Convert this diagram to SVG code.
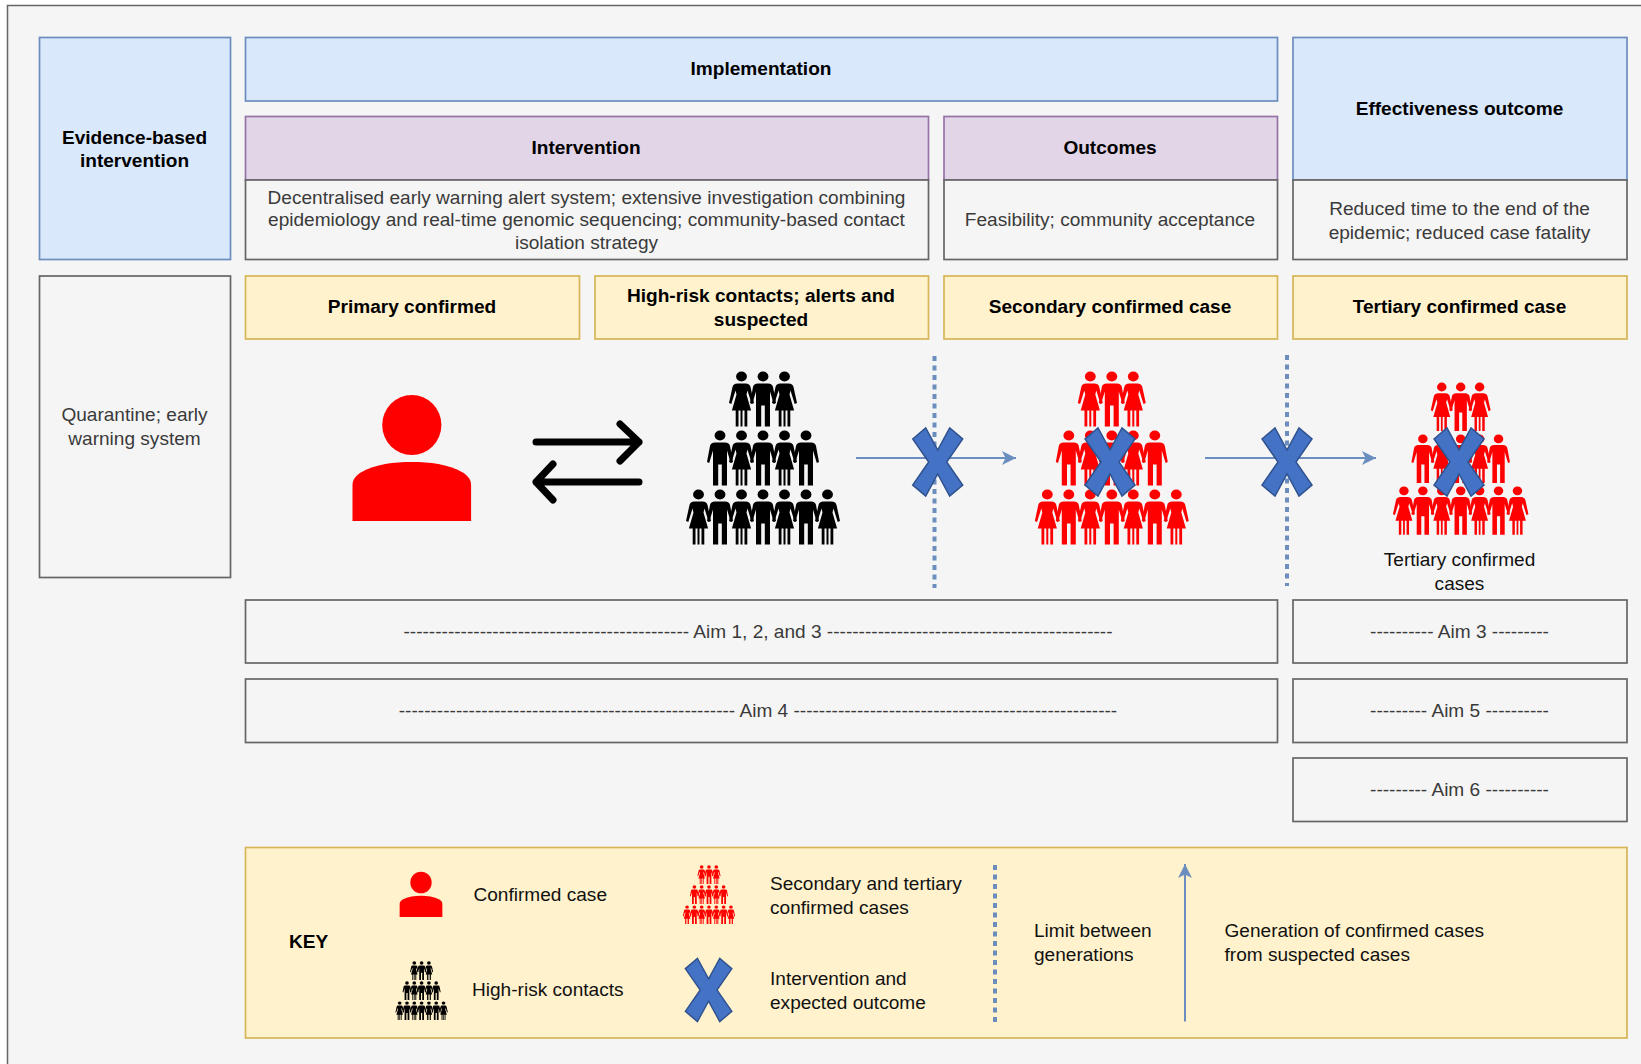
<svg xmlns="http://www.w3.org/2000/svg" width="1641" height="1064" viewBox="0 0 1641 1064">
<style>
text{font-family:"Liberation Sans",Arial,sans-serif;font-size:19.07px;fill:#3a3a3a;text-anchor:middle}
.b{font-weight:bold;fill:#000}
.k{fill:#111;text-anchor:start}
rect{stroke-width:1.7}
rect.bl{fill:#dae8fc;stroke:#6c8ebf}
rect.pu{fill:#e1d5e7;stroke:#9673a6}
rect.ye{fill:#fff2cc;stroke:#d6b656}
rect.gr{fill:#f5f5f5;stroke:#666}
.dot{fill:none;stroke:#6c8ebf;stroke-width:4;stroke-dasharray:5 4.5}
.flow{fill:none;stroke:#6c8ebf;stroke-width:2}
.swap{fill:none;stroke:#000;stroke-width:7;stroke-linecap:round;stroke-linejoin:round}
.x{fill:#4472c4;stroke:#2f528f;stroke-width:1.5}
</style>
<defs>
<marker id="head" markerUnits="userSpaceOnUse" markerWidth="16" markerHeight="16" refX="14" refY="7.5" orient="auto"><path d="M0 .5L14 7.5L0 14.5L3.5 7.5Z" fill="#6c8ebf"/></marker>
<g id="woman"><ellipse cx="0" cy="0" rx="5.4" ry="5"/><path d="M-4 7H4C7 7 8.500 8.500 9 10.500L12.500 26.500L10.200 27.500L6 14L5 18L9.600 34H5.800V50H3V34H1V50H-1V34H-3V50H-5.800V34H-9.600L-5 18L-6 14L-10.200 27.500L-12.500 26.500L-9 10.500C-8.500 8.500-7 7-4 7Z"/></g>
<g id="man"><ellipse cx="0" cy="0" rx="5.4" ry="5"/><path d="M-5 7H5C8 7 9.500 8.500 10 10.500L13 26.500L10.800 27.500L7 15V50H1.800V29H-1.800V50H-7V15L-10.800 27.500L-13 26.500L-10 10.500C-9.500 8.500-8 7-5 7Z"/></g>
<g id="crowd">
<use href="#woman" x="-21.500" y="0"/><use href="#man" x="0" y="0"/><use href="#woman" x="21.500" y="0"/>
<use href="#man" x="-43" y="59"/><use href="#woman" x="-21.500" y="59"/><use href="#man" x="0" y="59"/><use href="#woman" x="21.500" y="59"/><use href="#man" x="43" y="59"/>
<use href="#woman" x="-64.500" y="118"/><use href="#man" x="-43" y="118"/><use href="#woman" x="-21.500" y="118"/><use href="#man" x="0" y="118"/><use href="#woman" x="21.500" y="118"/><use href="#man" x="43" y="118"/><use href="#woman" x="64.500" y="118"/>
</g>
<g id="person"><ellipse cx="0" cy="0" rx="29.600" ry="30"/><path d="M-59.300 96V60C-59.300 54-55 50-51 47.500C-36 39-18 37 0 37C18 37 36 39 51 47.500C55 50 59.300 54 59.300 60V96Z"/></g>
<path id="cross" d="M-25 -23L-12 -34L0 -12L12 -34L25 -23L9 0L25 23L12 34L0 12L-12 34L-25 23L-9 0Z"/>
</defs>

<rect x="7.500" y="5.500" width="1700" height="1100" style="fill:#f5f5f5;stroke:#666;stroke-width:1.500"/>

<g id="evidence"><rect class="bl" x="39.500" y="37.500" width="191" height="222"/><text class="b" x="134.500" y="144">Evidence-based</text><text class="b" x="134.500" y="167">intervention</text></g>
<g id="implementation"><rect class="bl" x="245.500" y="37.500" width="1032" height="63.500"/><text class="b" x="761" y="75">Implementation</text></g>
<g id="intervention"><rect class="pu" x="245.500" y="116.500" width="683" height="63.500"/><text class="b" x="586" y="154">Intervention</text></g>
<g id="intervention-text"><rect class="gr" x="245.500" y="180" width="683" height="79.500"/><text x="586.500" y="203.500">Decentralised early warning alert system; extensive investigation combining</text><text x="586.500" y="226">epidemiology and real-time genomic sequencing; community-based contact</text><text x="586.500" y="249">isolation strategy</text></g>
<g id="outcomes"><rect class="pu" x="944" y="116.500" width="333.500" height="63.500"/><text class="b" x="1110" y="154">Outcomes</text></g>
<g id="outcomes-text"><rect class="gr" x="944" y="180" width="333.500" height="79.500"/><text x="1110" y="225.500">Feasibility; community acceptance</text></g>
<g id="effectiveness"><rect class="bl" x="1293" y="37.500" width="334" height="142.500"/><text class="b" x="1459.500" y="115">Effectiveness outcome</text></g>
<g id="effectiveness-text"><rect class="gr" x="1293" y="180" width="334" height="79.500"/><text x="1459.500" y="214.500">Reduced time to the end of the</text><text x="1459.500" y="238.500">epidemic; reduced case fatality</text></g>

<g id="quarantine"><rect class="gr" x="39.500" y="276" width="191" height="301.500"/><text x="134.500" y="421">Quarantine; early</text><text x="134.500" y="445">warning system</text></g>
<g id="primary"><rect class="ye" x="245.500" y="276" width="334" height="63"/><text class="b" x="412" y="313">Primary confirmed</text></g>
<g id="highrisk"><rect class="ye" x="595" y="276" width="333.500" height="63"/><text class="b" x="761" y="302">High-risk contacts; alerts and</text><text class="b" x="761" y="326">suspected</text></g>
<g id="secondary"><rect class="ye" x="944" y="276" width="333.500" height="63"/><text class="b" x="1110" y="313">Secondary confirmed case</text></g>
<g id="tertiary"><rect class="ye" x="1293" y="276" width="334" height="63"/><text class="b" x="1459.500" y="313">Tertiary confirmed case</text></g>

<g id="connectors">
<path class="dot" d="M934.500 356V588"/>
<path class="dot" d="M1287 355V586"/>
<path class="flow" d="M856 458H1016" marker-end="url(#head)"/>
<path class="flow" d="M1205 458H1376" marker-end="url(#head)"/>
<path class="swap" d="M536 442H639M620 424L639 442L620 461"/>
<path class="swap" d="M639 482H536M553 464L536 482L553 500"/>
</g>

<g id="icon-primary"><use href="#person" transform="translate(411.800,425)" fill="#f00"/></g>
<g id="icon-contacts"><use href="#crowd" transform="translate(763,376.500)" fill="#000"/></g>
<g id="icon-secondary"><use href="#crowd" transform="translate(1111.800,376.500)" fill="#f00"/></g>
<g id="icon-tertiary"><use href="#crowd" transform="translate(1460.700,387) scale(.88)" fill="#f00"/></g>
<g id="tertiary-label"><text x="1459.500" y="565.500" style="fill:#111">Tertiary confirmed</text><text x="1459.500" y="589.500" style="fill:#111">cases</text></g>
<g id="cross-1"><use href="#cross" class="x" x="937.700" y="462"/></g>
<g id="cross-2"><use href="#cross" class="x" x="1110" y="462"/></g>
<g id="cross-3"><use href="#cross" class="x" x="1287" y="462"/></g>
<g id="cross-4"><use href="#cross" class="x" x="1459" y="462"/></g>

<g id="aim123"><rect class="gr" x="245.500" y="600" width="1032" height="63"/><text x="758" y="637.500">--------------------------------------------- Aim 1, 2, and 3 ---------------------------------------------</text></g>
<g id="aim4"><rect class="gr" x="245.500" y="679" width="1032" height="63.500"/><text x="758" y="716.500">----------------------------------------------------- Aim 4 ---------------------------------------------------</text></g>
<g id="aim3"><rect class="gr" x="1293" y="600" width="334" height="63"/><text x="1459.500" y="637.500">---------- Aim 3 ---------</text></g>
<g id="aim5"><rect class="gr" x="1293" y="679" width="334" height="63.500"/><text x="1459.500" y="716.500">--------- Aim 5 ----------</text></g>
<g id="aim6"><rect class="gr" x="1293" y="758" width="334" height="63.500"/><text x="1459.500" y="796">--------- Aim 6 ----------</text></g>

<g id="key">
<rect class="ye" x="245.500" y="847.500" width="1381.500" height="190.500"/>
<text class="b" x="289" y="948" style="text-anchor:start">KEY</text>
<use href="#person" transform="translate(421,882.500) scale(.36)" fill="#f00"/>
<text class="k" x="473.500" y="900.500">Confirmed case</text>
<use href="#crowd" transform="translate(421.600,963) scale(.34)" fill="#000"/>
<text class="k" x="472" y="995.500">High-risk contacts</text>
<use href="#crowd" transform="translate(709,867) scale(.34)" fill="#f00"/>
<text class="k" x="770" y="889.500">Secondary and tertiary</text>
<text class="k" x="770" y="913.500">confirmed cases</text>
<use href="#cross" class="x" transform="translate(708.600,990) scale(.93)"/>
<text class="k" x="770" y="985">Intervention and</text>
<text class="k" x="770" y="1008.500">expected outcome</text>
<path class="dot" d="M995 865V1022"/>
<text class="k" x="1034" y="937">Limit between</text>
<text class="k" x="1034" y="961">generations</text>
<path class="flow" d="M1185 1021.500V864" marker-end="url(#head)"/>
<text class="k" x="1224.500" y="937">Generation of confirmed cases</text>
<text class="k" x="1224.500" y="961">from suspected cases</text>
</g>
</svg>
